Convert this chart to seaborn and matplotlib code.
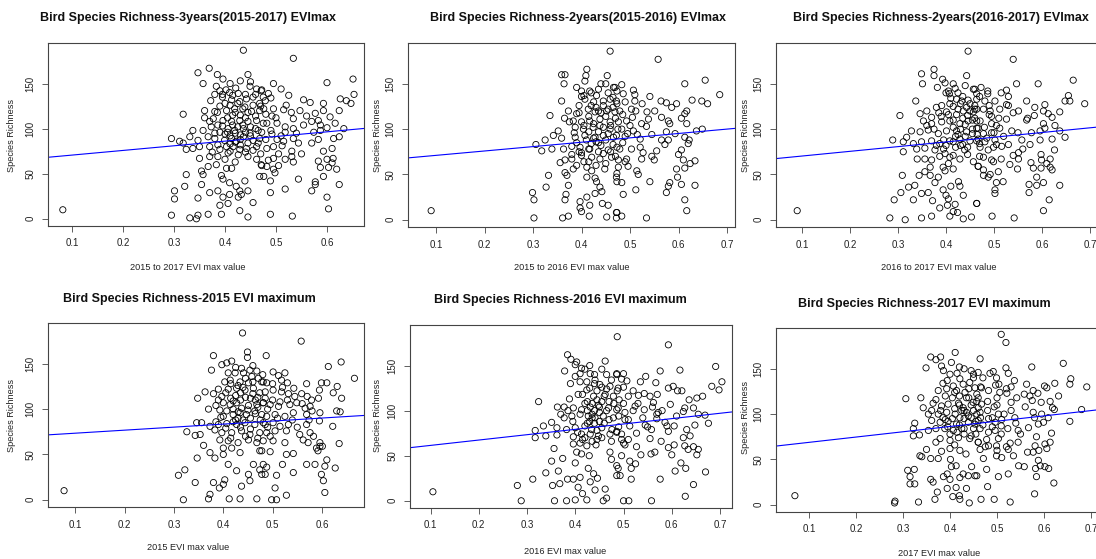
import numpy as np
import seaborn as sns
from matplotlib import pyplot as plt

# points: (EVI max value, species richness)
p1_points = [
    (0.082, 10),
    (0.436, 187), (0.347, 162), (0.369, 167), (0.385, 160), (0.396, 155), (0.445, 160), (0.357, 150), (0.383, 147),
    (0.402, 143), (0.421, 145), (0.449, 147), (0.462, 144), (0.471, 142), (0.372, 131), (0.409, 140), (0.426, 139),
    (0.395, 135), (0.413, 132), (0.429, 130), (0.442, 133), (0.455, 135), (0.468, 128), (0.318, 116), (0.360, 120),
    (0.380, 119), (0.403, 120), (0.419, 122), (0.439, 124), (0.452, 119), (0.468, 120), (0.377, 111), (0.396, 109),
    (0.413, 108), (0.429, 109), (0.445, 108), (0.462, 109), (0.337, 98), (0.357, 98), (0.373, 102), (0.386, 104),
    (0.406, 100), (0.419, 98), (0.436, 100), (0.449, 95), (0.465, 98), (0.295, 89), (0.311, 86), (0.331, 91),
    (0.347, 87), (0.367, 91), (0.380, 89), (0.399, 87), (0.413, 89), (0.422, 86), (0.436, 91), (0.455, 87),
    (0.468, 89), (0.318, 84), (0.324, 77), (0.337, 78), (0.350, 80), (0.370, 80), (0.386, 82), (0.403, 80),
    (0.416, 80), (0.429, 77), (0.442, 78), (0.462, 80), (0.350, 67), (0.370, 69), (0.386, 69), (0.406, 73),
    (0.426, 71), (0.445, 69), (0.462, 66), (0.471, 60), (0.367, 58), (0.383, 60), (0.403, 56), (0.354, 53),
    (0.357, 49), (0.324, 49), (0.393, 48), (0.413, 56), (0.468, 47), (0.396, 44), (0.321, 36), (0.354, 38),
    (0.409, 40), (0.422, 36), (0.429, 31), (0.439, 42), (0.445, 31), (0.432, 27), (0.301, 31), (0.301, 22),
    (0.347, 23), (0.370, 29), (0.386, 31), (0.396, 24), (0.409, 27), (0.426, 24), (0.455, 18), (0.390, 15),
    (0.406, 17), (0.429, 9), (0.393, 5), (0.445, 2), (0.295, 4), (0.331, 1), (0.347, 4), (0.367, 5), (0.344, 0),
    (0.390, 125), (0.400, 128), (0.410, 126), (0.420, 118), (0.430, 115), (0.440, 112), (0.405, 112), (0.415, 104),
    (0.425, 102), (0.435, 104), (0.390, 96), (0.400, 94), (0.410, 92), (0.420, 95), (0.430, 93), (0.440, 96),
    (0.450, 102), (0.460, 114), (0.470, 125), (0.475, 135), (0.380, 138), (0.390, 142), (0.410, 150), (0.430, 153),
    (0.440, 138), (0.420, 85), (0.410, 83), (0.430, 82), (0.445, 84), (0.455, 76),
    (0.385, 118), (0.395, 103), (0.405, 96), (0.415, 115), (0.425, 128), (0.435, 122), (0.445, 118), (0.455, 126),
    (0.460, 100), (0.370, 108), (0.380, 95), (0.390, 77), (0.400, 66), (0.410, 75), (0.420, 63), (0.430, 88),
    (0.440, 74), (0.450, 92), (0.465, 84), (0.475, 106), (0.480, 116), (0.490, 98), (0.500, 112), (0.510, 92),
    (0.520, 126), (0.530, 118), (0.540, 95), (0.550, 72), (0.560, 114), (0.505, 72), (0.480, 88), (0.470, 72),
    (0.360, 112), (0.375, 74), (0.395, 138), (0.415, 137), (0.450, 152), (0.460, 138), (0.490, 134), (0.485, 65),
    (0.534, 178), (0.495, 150), (0.510, 144), (0.600, 151), (0.651, 155), (0.472, 143), (0.485, 139), (0.525, 137),
    (0.653, 138), (0.479, 131), (0.554, 132), (0.567, 129), (0.593, 128), (0.626, 133), (0.638, 131), (0.647, 128),
    (0.476, 122), (0.495, 122), (0.515, 121), (0.547, 120), (0.577, 117), (0.593, 120), (0.624, 120), (0.492, 114),
    (0.534, 111), (0.570, 108), (0.583, 109), (0.606, 113), (0.482, 106), (0.502, 106), (0.518, 102), (0.534, 100),
    (0.554, 104), (0.587, 104), (0.600, 101), (0.616, 106), (0.633, 100), (0.472, 96), (0.492, 94), (0.518, 96),
    (0.574, 96), (0.587, 98), (0.502, 88), (0.515, 86), (0.534, 89), (0.544, 84), (0.570, 84), (0.583, 88),
    (0.613, 89), (0.624, 91), (0.482, 78), (0.495, 80), (0.512, 81), (0.531, 75), (0.593, 75), (0.610, 78),
    (0.495, 67), (0.518, 66), (0.531, 69), (0.534, 63), (0.583, 64), (0.600, 66), (0.612, 67), (0.472, 59),
    (0.482, 58), (0.495, 55), (0.505, 59), (0.587, 57), (0.603, 57), (0.610, 62), (0.476, 47), (0.498, 51),
    (0.593, 47), (0.619, 55), (0.489, 42), (0.544, 44), (0.577, 41), (0.577, 38), (0.624, 38), (0.489, 29),
    (0.518, 33), (0.570, 31), (0.600, 24), (0.603, 11), (0.489, 5), (0.532, 3),
]

p2_points = [
    (0.090, 10),
    (0.459, 186), (0.359, 160), (0.366, 160), (0.411, 166), (0.409, 159), (0.453, 159), (0.364, 150), (0.407, 153),
    (0.390, 146), (0.400, 142), (0.417, 142), (0.435, 144), (0.466, 146), (0.473, 142), (0.359, 131), (0.407, 133),
    (0.431, 137), (0.445, 131), (0.459, 133), (0.473, 128), (0.335, 115), (0.373, 120), (0.390, 117), (0.414, 122),
    (0.428, 119), (0.452, 120), (0.469, 119), (0.383, 109), (0.400, 108), (0.417, 109), (0.438, 111), (0.459, 108),
    (0.476, 108), (0.387, 102), (0.404, 100), (0.424, 102), (0.438, 104), (0.459, 100), (0.352, 98), (0.342, 93),
    (0.359, 90), (0.325, 88), (0.387, 91), (0.407, 93), (0.428, 91), (0.445, 93), (0.466, 91), (0.306, 83),
    (0.318, 76), (0.339, 78), (0.363, 78), (0.380, 81), (0.397, 80), (0.417, 78), (0.435, 75), (0.455, 77),
    (0.473, 80), (0.356, 63), (0.366, 66), (0.380, 67), (0.390, 60), (0.400, 71), (0.421, 69), (0.438, 67),
    (0.462, 69), (0.366, 52), (0.370, 49), (0.383, 56), (0.411, 58), (0.421, 54), (0.448, 56), (0.473, 51),
    (0.332, 49), (0.327, 36), (0.373, 38), (0.411, 47), (0.428, 46), (0.438, 36), (0.431, 42), (0.473, 42),
    (0.299, 30), (0.302, 22), (0.368, 28), (0.366, 22), (0.411, 25), (0.417, 16), (0.428, 29), (0.442, 31),
    (0.397, 20), (0.397, 13), (0.400, 9), (0.443, 18), (0.455, 16), (0.473, 8), (0.302, 2), (0.361, 2),
    (0.373, 4), (0.416, 4), (0.452, 3),
    (0.420, 126), (0.430, 124), (0.440, 118), (0.450, 114), (0.415, 114), (0.425, 106), (0.435, 97), (0.445, 102),
    (0.410, 88), (0.420, 84), (0.430, 86), (0.440, 82), (0.450, 88), (0.395, 126), (0.405, 137), (0.440, 150),
    (0.455, 140), (0.465, 124), (0.470, 112), (0.390, 85), (0.400, 74), (0.415, 64), (0.430, 60), (0.450, 62),
    (0.460, 75),
    (0.395, 118), (0.405, 104), (0.415, 97), (0.425, 130), (0.435, 120), (0.445, 126), (0.455, 122), (0.460, 104),
    (0.375, 108), (0.385, 96), (0.395, 75), (0.405, 64), (0.415, 78), (0.425, 90), (0.435, 85), (0.445, 73),
    (0.455, 95), (0.465, 83), (0.475, 100), (0.485, 116), (0.495, 95), (0.505, 113), (0.515, 94), (0.525, 128),
    (0.535, 119), (0.545, 94), (0.555, 76), (0.565, 113), (0.485, 85), (0.470, 70), (0.365, 112), (0.380, 72),
    (0.400, 136), (0.420, 140), (0.450, 150), (0.465, 135), (0.490, 130), (0.490, 64), (0.500, 104), (0.510, 138),
    (0.558, 177), (0.613, 150), (0.655, 154), (0.685, 138), (0.483, 149), (0.507, 143), (0.469, 146), (0.486, 139),
    (0.472, 131), (0.510, 131), (0.541, 136), (0.564, 131), (0.575, 129), (0.596, 128), (0.628, 132), (0.648, 131),
    (0.660, 128), (0.479, 120), (0.503, 122), (0.512, 120), (0.551, 120), (0.586, 124), (0.617, 120), (0.613, 117),
    (0.493, 109), (0.524, 106), (0.538, 111), (0.579, 109), (0.582, 106), (0.606, 112), (0.483, 100), (0.507, 98),
    (0.534, 103), (0.575, 97), (0.593, 95), (0.637, 98), (0.649, 100), (0.617, 106), (0.472, 93), (0.490, 92),
    (0.521, 89), (0.565, 88), (0.572, 83), (0.579, 88), (0.613, 91), (0.622, 88), (0.620, 84), (0.479, 78),
    (0.503, 78), (0.521, 80), (0.527, 74), (0.606, 77), (0.476, 66), (0.493, 67), (0.524, 67), (0.545, 70),
    (0.550, 66), (0.600, 72), (0.610, 66), (0.624, 62), (0.634, 65), (0.476, 58), (0.496, 59), (0.514, 54),
    (0.517, 50), (0.596, 56), (0.613, 57), (0.472, 47), (0.483, 41), (0.541, 42), (0.582, 41), (0.579, 37),
    (0.598, 47), (0.606, 39), (0.634, 38), (0.486, 28), (0.512, 33), (0.575, 30), (0.613, 22), (0.617, 10),
    (0.472, 8), (0.483, 4), (0.534, 2), (0.472, 2),
]

p3_points = [
    (0.090, 10),
    (0.446, 186), (0.349, 161), (0.375, 166), (0.375, 159), (0.443, 159), (0.351, 150), (0.393, 155), (0.398, 151),
    (0.382, 146), (0.405, 142), (0.419, 145), (0.457, 144), (0.464, 139), (0.337, 131), (0.407, 139), (0.422, 133),
    (0.433, 131), (0.446, 132), (0.391, 126), (0.408, 128), (0.443, 124), (0.460, 126), (0.304, 115), (0.346, 117),
    (0.360, 120), (0.380, 124), (0.370, 113), (0.401, 119), (0.422, 116), (0.436, 120), (0.457, 119), (0.328, 98),
    (0.353, 109), (0.370, 106), (0.391, 108), (0.408, 109), (0.429, 106), (0.446, 109), (0.464, 101), (0.346, 97),
    (0.363, 99), (0.384, 95), (0.401, 98), (0.422, 98), (0.443, 97), (0.289, 88), (0.311, 86), (0.318, 91),
    (0.332, 84), (0.349, 86), (0.370, 87), (0.387, 84), (0.408, 87), (0.429, 89), (0.450, 87), (0.467, 89),
    (0.311, 75), (0.339, 78), (0.356, 79), (0.377, 77), (0.398, 73), (0.415, 71), (0.439, 77), (0.340, 67),
    (0.356, 67), (0.370, 66), (0.387, 70), (0.408, 69), (0.429, 67), (0.457, 64), (0.467, 59), (0.367, 58),
    (0.394, 58), (0.415, 56), (0.398, 54), (0.356, 53), (0.344, 49), (0.367, 49), (0.384, 47), (0.309, 49),
    (0.335, 38), (0.322, 36), (0.377, 41), (0.410, 37), (0.426, 42), (0.429, 37), (0.306, 30), (0.349, 29),
    (0.363, 30), (0.394, 33), (0.400, 27), (0.436, 27), (0.292, 22), (0.332, 22), (0.372, 21), (0.405, 23),
    (0.419, 17), (0.464, 18), (0.403, 16), (0.387, 13), (0.415, 9), (0.424, 8), (0.283, 2), (0.315, 0),
    (0.349, 2), (0.370, 4), (0.408, 4), (0.436, 1), (0.453, 3),
    (0.415, 125), (0.425, 122), (0.435, 112), (0.445, 115), (0.455, 110), (0.415, 102), (0.430, 100), (0.440, 92),
    (0.455, 95), (0.420, 80), (0.430, 82), (0.445, 80), (0.395, 88), (0.400, 82), (0.390, 114), (0.410, 134),
    (0.425, 140), (0.435, 136), (0.450, 128), (0.460, 122),
    (0.405, 116), (0.415, 110), (0.420, 92), (0.430, 128), (0.440, 105), (0.450, 120), (0.460, 112), (0.465, 94),
    (0.375, 100), (0.385, 118), (0.395, 78), (0.405, 62), (0.415, 86), (0.425, 94), (0.435, 83), (0.445, 72),
    (0.455, 100), (0.470, 84), (0.480, 102), (0.490, 116), (0.500, 96), (0.510, 112), (0.520, 92), (0.530, 126),
    (0.540, 118), (0.550, 96), (0.560, 78), (0.570, 112), (0.485, 90), (0.470, 70), (0.360, 104), (0.380, 82),
    (0.400, 140), (0.415, 150), (0.440, 148), (0.470, 136), (0.490, 126), (0.495, 66), (0.505, 104), (0.515, 140),
    (0.540, 177), (0.547, 150), (0.592, 150), (0.665, 154), (0.460, 144), (0.473, 146), (0.487, 142), (0.487, 139),
    (0.526, 143), (0.530, 136), (0.655, 137), (0.464, 133), (0.481, 131), (0.502, 131), (0.512, 122), (0.526, 127),
    (0.568, 131), (0.585, 124), (0.606, 127), (0.648, 131), (0.658, 131), (0.689, 128), (0.464, 122), (0.478, 122),
    (0.492, 120), (0.551, 120), (0.603, 120), (0.613, 117), (0.637, 119), (0.464, 109), (0.471, 109), (0.495, 114),
    (0.526, 111), (0.568, 110), (0.584, 115), (0.621, 113), (0.467, 101), (0.495, 106), (0.512, 101), (0.603, 106),
    (0.606, 101), (0.627, 104), (0.637, 98), (0.478, 95), (0.495, 96), (0.537, 98), (0.578, 96), (0.596, 98),
    (0.648, 91), (0.464, 87), (0.481, 86), (0.502, 88), (0.505, 83), (0.530, 83), (0.558, 88), (0.575, 83),
    (0.596, 88), (0.621, 89), (0.471, 80), (0.488, 77), (0.499, 80), (0.516, 81), (0.551, 74), (0.626, 77),
    (0.478, 69), (0.515, 67), (0.540, 71), (0.551, 67), (0.598, 72), (0.617, 67), (0.467, 59), (0.478, 55),
    (0.499, 64), (0.533, 61), (0.549, 56), (0.577, 63), (0.599, 66), (0.610, 62), (0.617, 58), (0.478, 49),
    (0.492, 50), (0.509, 53), (0.582, 57), (0.598, 57), (0.621, 55), (0.488, 47), (0.505, 41), (0.519, 42),
    (0.573, 39), (0.589, 47), (0.589, 38), (0.603, 41), (0.637, 38), (0.502, 33), (0.502, 29), (0.573, 30),
    (0.615, 22), (0.464, 18), (0.603, 10), (0.496, 4), (0.542, 2),
]

p4_points = [
    (0.077, 10),
    (0.439, 184), (0.380, 159), (0.449, 163), (0.449, 157), (0.417, 153), (0.407, 151), (0.397, 149), (0.376, 143),
    (0.437, 145), (0.454, 143), (0.468, 142), (0.424, 140), (0.441, 140), (0.458, 136), (0.471, 134), (0.403, 130),
    (0.414, 132), (0.434, 130), (0.451, 129), (0.481, 130), (0.363, 119), (0.348, 112), (0.380, 117), (0.397, 114),
    (0.410, 122), (0.427, 123), (0.444, 121), (0.461, 123), (0.474, 118), (0.400, 107), (0.414, 105), (0.427, 107),
    (0.437, 101), (0.451, 104), (0.468, 105), (0.481, 107), (0.393, 99), (0.407, 98), (0.420, 94), (0.434, 96),
    (0.447, 94), (0.464, 98), (0.478, 94), (0.346, 85), (0.356, 85), (0.326, 75), (0.343, 71), (0.373, 81),
    (0.390, 83), (0.407, 84), (0.427, 83), (0.444, 85), (0.464, 83), (0.481, 85), (0.353, 72), (0.383, 77),
    (0.397, 74), (0.417, 74), (0.437, 76), (0.454, 72), (0.474, 74), (0.360, 60), (0.393, 66), (0.410, 65),
    (0.430, 63), (0.451, 66), (0.468, 63), (0.373, 52), (0.383, 46), (0.400, 57), (0.417, 57), (0.434, 52),
    (0.474, 54), (0.347, 46), (0.400, 50), (0.410, 39), (0.427, 32), (0.461, 39), (0.474, 33), (0.309, 27),
    (0.322, 33), (0.343, 19), (0.380, 19), (0.403, 22), (0.400, 17), (0.451, 28), (0.454, 21), (0.478, 28),
    (0.392, 13), (0.437, 15), (0.373, 6), (0.370, 1), (0.319, 0), (0.412, 1), (0.434, 1), (0.468, 1),
    (0.415, 112), (0.425, 115), (0.435, 110), (0.445, 113), (0.455, 112), (0.420, 100), (0.430, 90), (0.440, 88),
    (0.455, 90), (0.470, 113), (0.420, 86), (0.415, 128), (0.430, 126), (0.445, 134), (0.460, 130), (0.390, 122),
    (0.400, 92), (0.390, 110), (0.435, 118), (0.465, 95),
    (0.405, 118), (0.420, 109), (0.430, 97), (0.440, 124), (0.450, 99), (0.460, 117), (0.470, 102), (0.475, 88),
    (0.385, 104), (0.395, 91), (0.405, 79), (0.415, 68), (0.425, 88), (0.435, 80), (0.445, 70), (0.455, 78),
    (0.465, 110), (0.485, 112), (0.490, 100), (0.500, 110), (0.510, 90), (0.520, 124), (0.530, 110), (0.540, 88),
    (0.550, 80), (0.560, 106), (0.570, 114), (0.580, 98), (0.490, 80), (0.470, 68), (0.370, 100), (0.385, 86),
    (0.410, 140), (0.425, 146), (0.460, 148), (0.480, 138), (0.500, 128), (0.495, 70), (0.515, 108), (0.525, 140),
    (0.558, 175), (0.487, 159), (0.613, 147), (0.639, 152), (0.666, 134), (0.501, 141), (0.512, 137), (0.478, 130),
    (0.488, 129), (0.518, 132), (0.530, 129), (0.543, 123), (0.569, 128), (0.599, 129), (0.610, 129), (0.631, 125),
    (0.595, 121), (0.485, 119), (0.501, 121), (0.518, 119), (0.532, 117), (0.545, 114), (0.559, 117), (0.579, 110),
    (0.593, 112), (0.623, 118), (0.640, 112), (0.481, 107), (0.495, 105), (0.512, 103), (0.535, 105), (0.549, 107),
    (0.566, 101), (0.576, 103), (0.630, 98), (0.637, 97), (0.488, 92), (0.505, 94), (0.525, 92), (0.542, 96),
    (0.569, 94), (0.596, 96), (0.574, 88), (0.485, 83), (0.501, 85), (0.515, 81), (0.532, 83), (0.569, 83),
    (0.595, 87), (0.622, 81), (0.488, 74), (0.505, 76), (0.528, 76), (0.555, 72), (0.576, 74), (0.583, 70),
    (0.481, 65), (0.501, 65), (0.525, 63), (0.562, 66), (0.572, 63), (0.596, 63), (0.635, 62), (0.478, 54),
    (0.495, 53), (0.528, 50), (0.542, 51), (0.589, 57), (0.596, 59), (0.601, 59), (0.592, 54), (0.481, 39),
    (0.488, 36), (0.520, 39), (0.569, 39), (0.586, 39), (0.610, 44), (0.606, 37), (0.627, 35), (0.485, 28),
    (0.508, 27), (0.542, 30), (0.599, 28), (0.603, 21), (0.505, 13), (0.606, 8), (0.528, 5), (0.498, 0),
    (0.508, 0),
]

p5_points = [
    (0.105, 10),
    (0.487, 182), (0.384, 162), (0.391, 157), (0.403, 154), (0.400, 151), (0.378, 144), (0.413, 147), (0.462, 155),
    (0.431, 141), (0.410, 141), (0.424, 132), (0.441, 134), (0.465, 140), (0.486, 140), (0.410, 132), (0.451, 129),
    (0.472, 127), (0.487, 122), (0.324, 110), (0.388, 113), (0.406, 118), (0.424, 123), (0.438, 116), (0.462, 118),
    (0.479, 116), (0.363, 104), (0.377, 104), (0.396, 103), (0.413, 101), (0.431, 104), (0.448, 106), (0.469, 103),
    (0.486, 101), (0.377, 92), (0.393, 94), (0.410, 96), (0.427, 94), (0.441, 92), (0.458, 94), (0.479, 92),
    (0.351, 87), (0.334, 83), (0.317, 78), (0.317, 70), (0.362, 81), (0.382, 79), (0.400, 81), (0.420, 83),
    (0.434, 79), (0.455, 81), (0.476, 79), (0.339, 72), (0.362, 73), (0.396, 71), (0.413, 74), (0.431, 74),
    (0.448, 72), (0.472, 74), (0.486, 76), (0.396, 63), (0.410, 64), (0.424, 61), (0.443, 62), (0.356, 58),
    (0.472, 54), (0.403, 54), (0.413, 52), (0.429, 50), (0.351, 44), (0.374, 47), (0.400, 42), (0.475, 46),
    (0.486, 39), (0.339, 31), (0.365, 33), (0.427, 36), (0.438, 30), (0.446, 25), (0.486, 28), (0.312, 24),
    (0.280, 17), (0.353, 17), (0.368, 19), (0.384, 24), (0.396, 24), (0.410, 26), (0.431, 21), (0.406, 15),
    (0.415, 8), (0.441, 12), (0.462, 13), (0.465, 3), (0.288, 0), (0.357, 0), (0.382, 0), (0.400, 1),
    (0.424, 1), (0.458, 0),
    (0.425, 110), (0.435, 108), (0.445, 112), (0.455, 110), (0.440, 100), (0.450, 98), (0.430, 88), (0.440, 86),
    (0.450, 88), (0.420, 108), (0.470, 110), (0.430, 125), (0.445, 122), (0.455, 126), (0.440, 140), (0.420, 70),
    (0.435, 66), (0.445, 68), (0.420, 146), (0.460, 86),
    (0.415, 118), (0.425, 100), (0.435, 96), (0.440, 130), (0.450, 104), (0.460, 116), (0.465, 100), (0.470, 90),
    (0.385, 100), (0.395, 88), (0.405, 76), (0.415, 68), (0.425, 86), (0.435, 92), (0.445, 78), (0.455, 70),
    (0.465, 124), (0.480, 108), (0.490, 94), (0.500, 108), (0.510, 90), (0.520, 122), (0.530, 108), (0.540, 92),
    (0.550, 82), (0.560, 104), (0.570, 118), (0.580, 100), (0.490, 82), (0.475, 66), (0.370, 96), (0.390, 130),
    (0.400, 138), (0.430, 150), (0.455, 146), (0.475, 134), (0.500, 126), (0.500, 64), (0.520, 100), (0.535, 132),
    (0.593, 173), (0.576, 144), (0.617, 145), (0.691, 149), (0.704, 132), (0.567, 131), (0.486, 141), (0.500, 141),
    (0.496, 135), (0.507, 133), (0.546, 138), (0.593, 125), (0.603, 127), (0.612, 122), (0.621, 122), (0.683, 127),
    (0.698, 123), (0.489, 125), (0.510, 116), (0.531, 117), (0.543, 119), (0.555, 116), (0.524, 105), (0.491, 112),
    (0.562, 109), (0.597, 107), (0.627, 103), (0.636, 112), (0.652, 114), (0.664, 116), (0.489, 103), (0.503, 98),
    (0.543, 101), (0.569, 96), (0.572, 98), (0.610, 94), (0.624, 99), (0.645, 103), (0.655, 96), (0.669, 95),
    (0.503, 90), (0.513, 83), (0.545, 84), (0.569, 91), (0.586, 87), (0.605, 83), (0.631, 79), (0.676, 86),
    (0.486, 77), (0.496, 74), (0.527, 75), (0.558, 79), (0.590, 83), (0.593, 77), (0.648, 84), (0.496, 68),
    (0.510, 68), (0.555, 69), (0.578, 66), (0.624, 70), (0.638, 72), (0.503, 62), (0.527, 60), (0.565, 54),
    (0.593, 59), (0.605, 62), (0.627, 61), (0.645, 60), (0.655, 57), (0.496, 50), (0.536, 51), (0.557, 52),
    (0.600, 51), (0.652, 51), (0.634, 57), (0.513, 44), (0.525, 41), (0.489, 36), (0.516, 36), (0.607, 33),
    (0.619, 42), (0.629, 36), (0.670, 32), (0.493, 28), (0.516, 24), (0.576, 24), (0.645, 18), (0.628, 5),
    (0.500, 0), (0.511, 0), (0.558, 0),
]

p6_points = [
    (0.070, 10),
    (0.411, 168), (0.359, 163), (0.370, 160), (0.380, 163), (0.382, 153), (0.349, 151), (0.386, 148), (0.403, 157),
    (0.450, 144), (0.394, 137), (0.421, 139), (0.428, 133), (0.442, 135), (0.453, 129), (0.407, 131), (0.375, 126),
    (0.393, 128), (0.414, 126), (0.432, 124), (0.457, 122), (0.338, 118), (0.306, 117), (0.343, 107), (0.364, 112),
    (0.361, 104), (0.382, 109), (0.396, 111), (0.418, 112), (0.428, 107), (0.449, 113), (0.460, 107), (0.354, 100),
    (0.375, 100), (0.393, 102), (0.411, 100), (0.421, 96), (0.439, 98), (0.457, 100), (0.325, 90), (0.361, 93),
    (0.379, 91), (0.396, 92), (0.414, 89), (0.439, 91), (0.453, 89), (0.322, 84), (0.322, 76), (0.335, 77),
    (0.354, 82), (0.370, 84), (0.389, 84), (0.407, 82), (0.425, 84), (0.450, 84), (0.379, 73), (0.400, 71),
    (0.418, 74), (0.442, 73), (0.460, 69), (0.370, 69), (0.350, 61), (0.382, 59), (0.400, 62), (0.421, 60),
    (0.434, 56), (0.340, 53), (0.359, 51), (0.375, 51), (0.401, 50), (0.336, 54), (0.403, 42), (0.413, 43),
    (0.446, 42), (0.428, 34), (0.453, 32), (0.310, 38), (0.324, 39), (0.315, 31), (0.315, 23), (0.325, 23),
    (0.359, 28), (0.364, 25), (0.386, 31), (0.394, 34), (0.400, 28), (0.421, 30), (0.439, 32), (0.373, 14),
    (0.394, 18), (0.413, 19), (0.435, 18), (0.406, 9), (0.420, 10), (0.421, 6), (0.282, 2), (0.283, 4),
    (0.333, 3), (0.368, 6), (0.441, 2),
    (0.420, 120), (0.435, 118), (0.445, 110), (0.405, 118), (0.410, 106), (0.425, 104), (0.435, 102), (0.430, 95),
    (0.445, 96), (0.405, 95), (0.415, 80), (0.430, 78), (0.390, 120), (0.440, 128), (0.450, 140), (0.385, 96),
    (0.455, 78), (0.430, 150), (0.415, 145), (0.395, 86),
    (0.410, 124), (0.420, 110), (0.430, 104), (0.440, 118), (0.450, 104), (0.460, 118), (0.465, 96), (0.470, 88),
    (0.380, 104), (0.390, 94), (0.400, 78), (0.410, 66), (0.420, 88), (0.430, 84), (0.445, 76), (0.455, 92),
    (0.465, 130), (0.480, 114), (0.490, 96), (0.500, 110), (0.510, 94), (0.520, 128), (0.530, 104), (0.540, 90),
    (0.550, 78), (0.560, 108), (0.570, 120), (0.580, 96), (0.490, 86), (0.475, 64), (0.370, 116), (0.385, 134),
    (0.400, 144), (0.420, 152), (0.445, 148), (0.470, 140), (0.500, 118), (0.500, 60), (0.515, 100), (0.530, 130),
    (0.509, 188), (0.519, 179), (0.464, 161), (0.519, 151), (0.524, 145), (0.574, 152), (0.641, 156), (0.657, 139),
    (0.691, 130), (0.460, 146), (0.485, 145), (0.492, 147), (0.499, 140), (0.537, 137), (0.497, 132), (0.504, 133),
    (0.563, 133), (0.601, 131), (0.623, 134), (0.655, 133), (0.467, 129), (0.482, 126), (0.506, 124), (0.521, 123),
    (0.542, 118), (0.558, 122), (0.577, 126), (0.587, 123), (0.606, 129), (0.631, 120), (0.457, 114), (0.467, 111),
    (0.494, 108), (0.530, 113), (0.575, 115), (0.594, 113), (0.613, 114), (0.618, 107), (0.622, 105), (0.464, 102),
    (0.480, 104), (0.503, 100), (0.538, 96), (0.577, 102), (0.595, 100), (0.609, 96), (0.680, 105), (0.460, 93),
    (0.482, 95), (0.496, 91), (0.509, 87), (0.523, 84), (0.545, 82), (0.567, 85), (0.588, 89), (0.599, 91),
    (0.655, 92), (0.464, 84), (0.482, 80), (0.496, 82), (0.509, 78), (0.528, 68), (0.584, 75), (0.616, 79),
    (0.460, 69), (0.478, 72), (0.503, 73), (0.545, 69), (0.581, 65), (0.602, 67), (0.613, 69), (0.464, 61),
    (0.482, 65), (0.499, 65), (0.520, 64), (0.524, 61), (0.565, 58), (0.577, 58), (0.589, 60), (0.606, 62),
    (0.471, 51), (0.499, 54), (0.510, 52), (0.535, 54), (0.588, 49), (0.592, 43), (0.602, 42), (0.610, 40),
    (0.457, 32), (0.478, 39), (0.503, 31), (0.524, 34), (0.546, 43), (0.558, 42), (0.582, 40), (0.584, 31),
    (0.621, 24), (0.480, 20), (0.580, 12), (0.466, 6), (0.494, 6), (0.528, 3),
]

# blue fitted line of each panel
fit_intercept = [65.5, 66.2, 65.1, 70.1, 55.5, 63.0]
fit_slope = [51.6, 48.3, 51.9, 33.4, 59.4, 58.4]

titles = [
    "Bird Species Richness-3years(2015-2017) EVImax",
    "Bird Species Richness-2years(2015-2016) EVImax",
    "Bird Species Richness-2years(2016-2017) EVImax",
    "Bird Species Richness-2015 EVI maximum",
    "Bird Species Richness-2016 EVI maximum",
    "Bird Species Richness-2017 EVI maximum",
]
xlabels = [
    "2015 to 2017 EVI max value",
    "2015 to 2016 EVI max value",
    "2016 to 2017 EVI max value",
    "2015 EVI max value",
    "2016 EVI max value",
    "2017 EVI max value",
]
ylabel = "Species Richness"
xticks = [0.1, 0.2, 0.3, 0.4, 0.5, 0.6, 0.7]
yticks = [0, 50, 100, 150]

sns.set_theme(style="ticks")
plt.rcParams['font.family'] = ['Liberation Sans', 'DejaVu Sans']

W, H = 1096, 559
fig = plt.figure(figsize=(W / 100, H / 100), dpi=100)

# plot boxes in pixels (left, right, top, bottom), pixel of x=0.3 and px per unit
boxes = [
    (48, 364, 43, 226, 174, 510),
    (408, 735, 43, 227, 533, 485),
    (776, 1100, 43, 227, 898, 480),
    (48, 364, 323, 507, 174, 493),
    (410, 732, 325, 508, 527, 482.5),
    (776, 1100, 328, 512, 903, 470),
]
title_pos = [(188, 18), (578, 18), (941, 18), (189, 299), (560, 300), (924, 304)]
xlabel_pos = [(188, 268), (572, 268), (939, 268), (188, 548), (565, 551), (939, 553)]
ylabel_pos = [(12, 135), (378, 135), (746, 135), (12, 415), (378, 415), (746, 418)]

all_points = [p1_points, p2_points, p3_points, p4_points, p5_points, p6_points]
edge = '#444444'

for i, pts in enumerate(all_points):
    l, r, t, b, p03, scale = boxes[i]
    ax = fig.add_axes([l / W, 1 - b / H, (r - l) / W, (b - t) / H])
    xlo = 0.3 + (l - p03) / scale
    xhi = 0.3 + (r - p03) / scale
    evi, rich = np.array(pts).T
    sns.scatterplot(x=evi, y=rich, ax=ax, marker='o', s=20, facecolor='none',
                    edgecolor='black', linewidth=0.6)
    ax.axline((0, fit_intercept[i]), slope=fit_slope[i], color='#0000ff', lw=0.8)
    ax.set_xlim(xlo, xhi)
    ax.set_ylim(-8, 195)
    ax.set_xticks([v for v in xticks if xlo <= v <= xhi])
    ax.set_yticks(yticks)
    ax.set_xlabel('')
    ax.set_ylabel('')
    for s in ax.spines.values():
        s.set_visible(True)
        s.set_color(edge)
        s.set_linewidth(0.8)
    ax.tick_params(direction='out', length=4, width=0.6, color=edge,
                   labelsize=7, labelcolor='#222222', pad=5)
    plt.setp(ax.get_yticklabels(), rotation=90, va='center')

    fig.text(title_pos[i][0] / W, 1 - title_pos[i][1] / H, titles[i], ha='center', va='center',
             fontsize=9, fontweight='bold', color='#111111')
    fig.text(xlabel_pos[i][0] / W, 1 - xlabel_pos[i][1] / H, xlabels[i], ha='center', va='center',
             fontsize=6.6, color='#222222')
    fig.text(ylabel_pos[i][0] / W, 1 - ylabel_pos[i][1] / H, ylabel, ha='center', va='center',
             rotation=90, fontsize=6.6, color='#222222')

fig.savefig('out.png', dpi=100)
